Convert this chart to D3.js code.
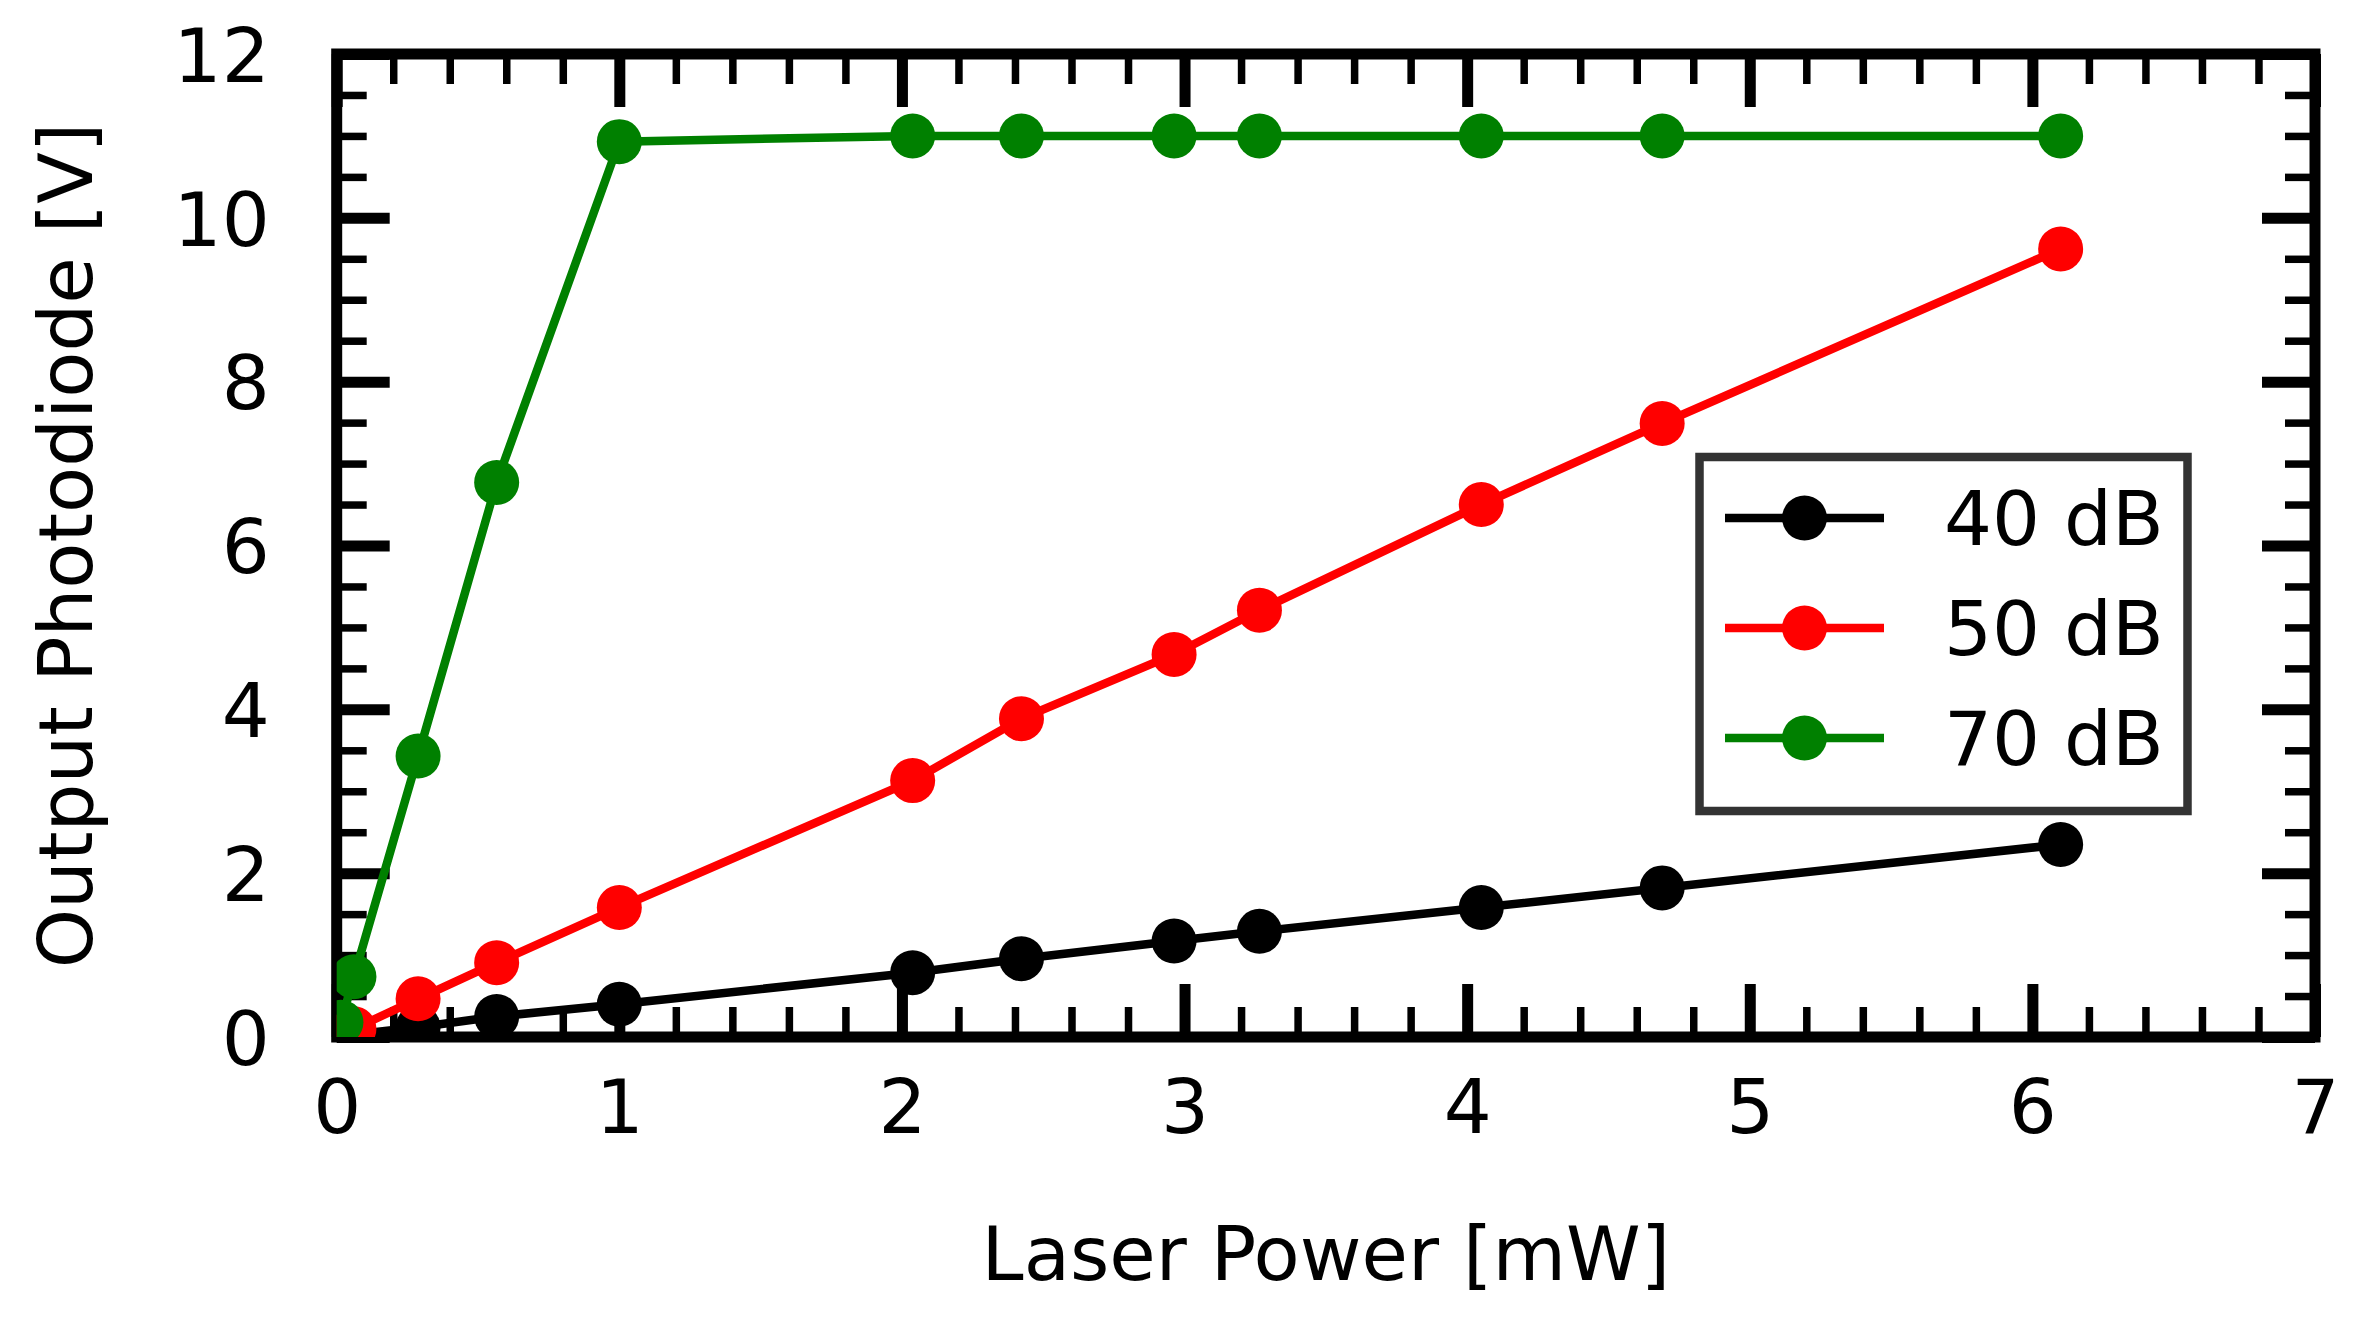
<!DOCTYPE html>
<html>
<head>
<meta charset="utf-8">
<script src="https://cdn.jsdelivr.net/npm/d3@7"></script>
<style>
  body { margin: 0; background: #fff; }
  text { font-family: "DejaVu Sans", sans-serif; }
</style>
</head>
<body>
<div id="chart"></div>
<script>
// data
var power = [0.061, 0.288, 0.566, 1.0, 2.038, 2.423, 2.963, 3.265, 4.05, 4.69, 6.10];
var power70 = [0.015, 0.061, 0.288, 0.566, 1.0, 2.038, 2.423, 2.963, 3.265, 4.05, 4.69, 6.10];
var out40 = [0.03, 0.12, 0.25, 0.40, 0.785, 0.956, 1.172, 1.29, 1.58, 1.82, 2.35];
var out50 = [0.10, 0.466, 0.907, 1.58, 3.13, 3.886, 4.67, 5.21, 6.50, 7.49, 9.62];
var out70 = [0.18, 0.736, 3.43, 6.77, 10.93, 11.0, 11.0, 11.0, 11.0, 11.0, 11.0, 11.0];
var seriesNames = ["40 dB", "50 dB", "70 dB"];
var seriesColors = ["#000000", "#ff0000", "#008000"];
var xTicks = [0, 1, 2, 3, 4, 5, 6, 7];
var yTicks = [0, 2, 4, 6, 8, 10, 12];

function drawChart() {
    var W = 2363, H = 1317;
    var pLeft = 336.7, pRight = 2315, pTop = 54, pBottom = 1037;
    var fontSize = 75.5;

    var svg = d3.select("#chart").append("svg")
        .attr("width", W)
        .attr("height", H);

    svg.append("rect").attr("width", W).attr("height", H).attr("fill", "#fff");

    var x = d3.scaleLinear().domain([0, 7]).range([pLeft, pRight]);
    var y = d3.scaleLinear().domain([0, 12]).range([pBottom, pTop]);

    var xMinor = d3.range(0, 7.001, 0.2).filter(function(v) { return Math.abs(v - Math.round(v)) > 1e-6; });
    var yMinor = d3.range(0, 12.001, 0.5).filter(function(v) { return Math.abs(v / 2 - Math.round(v / 2)) > 1e-6; });

    //////////////////// axes: inward ticks on all four sides ////////////////////
    function styleAxis(g, w) {
        g.select(".domain").remove();
        g.selectAll(".tick line").attr("stroke", "#000").attr("stroke-width", w);
    }

    // minor ticks
    svg.append("g").attr("transform", "translate(0," + pBottom + ")")
        .call(d3.axisBottom(x).tickValues(xMinor).tickSize(-30).tickFormat(""))
        .call(styleAxis, 7.5);
    svg.append("g").attr("transform", "translate(0," + pTop + ")")
        .call(d3.axisTop(x).tickValues(xMinor).tickSize(-30).tickFormat(""))
        .call(styleAxis, 7.5);
    svg.append("g").attr("transform", "translate(" + pLeft + ",0)")
        .call(d3.axisLeft(y).tickValues(yMinor).tickSize(-30).tickFormat(""))
        .call(styleAxis, 7.5);
    svg.append("g").attr("transform", "translate(" + pRight + ",0)")
        .call(d3.axisRight(y).tickValues(yMinor).tickSize(-30).tickFormat(""))
        .call(styleAxis, 7.5);

    // major ticks with labels
    var xAxis = svg.append("g").attr("transform", "translate(0," + pBottom + ")")
        .call(d3.axisBottom(x).tickValues(xTicks).tickSize(-53).tickFormat(d3.format("d")))
        .call(styleAxis, 11);
    xAxis.selectAll(".tick text")
        .attr("y", 96).attr("dy", 0)
        .attr("font-size", fontSize).attr("fill", "#000");

    var yAxis = svg.append("g").attr("transform", "translate(" + pLeft + ",0)")
        .call(d3.axisLeft(y).tickValues(yTicks).tickSize(-53).tickFormat(d3.format("d")))
        .call(styleAxis, 11);
    yAxis.selectAll(".tick text")
        .attr("x", -67).attr("dy", "0.36em")
        .attr("font-size", fontSize).attr("fill", "#000");

    svg.append("g").attr("transform", "translate(0," + pTop + ")")
        .call(d3.axisTop(x).tickValues(xTicks).tickSize(-53).tickFormat(""))
        .call(styleAxis, 11);
    svg.append("g").attr("transform", "translate(" + pRight + ",0)")
        .call(d3.axisRight(y).tickValues(yTicks).tickSize(-53).tickFormat(""))
        .call(styleAxis, 11);

    // frame
    svg.append("rect")
        .attr("x", pLeft).attr("y", pTop)
        .attr("width", pRight - pLeft).attr("height", pBottom - pTop)
        .attr("fill", "none").attr("stroke", "#000").attr("stroke-width", 11);

    //////////////////// data lines and markers ////////////////////
    svg.append("clipPath").attr("id", "plotClip")
        .append("rect")
        .attr("x", pLeft).attr("y", pTop)
        .attr("width", pRight - pLeft).attr("height", pBottom - pTop);

    var series = [
        { xs: power, ys: out40 },
        { xs: power, ys: out50 },
        { xs: power70, ys: out70 }
    ];

    var line = d3.line()
        .x(function(d) { return x(d[0]); })
        .y(function(d) { return y(d[1]); });

    var plot = svg.append("g").attr("clip-path", "url(#plotClip)");

    series.forEach(function(s, i) {
        var pts = s.xs.map(function(v, j) { return [v, s.ys[j]]; });
        var g = plot.append("g");
        g.append("path")
            .datum(pts)
            .attr("d", line)
            .attr("fill", "none")
            .attr("stroke", seriesColors[i])
            .attr("stroke-width", 8.5);
        g.selectAll("circle")
            .data(pts)
            .enter().append("circle")
            .attr("cx", function(d) { return x(d[0]); })
            .attr("cy", function(d) { return y(d[1]); })
            .attr("r", 22.5)
            .attr("fill", seriesColors[i]);
    });

    //////////////////// axis titles ////////////////////
    svg.append("text")
        .attr("x", (pLeft + pRight) / 2)
        .attr("y", 1280)
        .attr("text-anchor", "middle")
        .attr("font-size", fontSize)
        .text("Laser Power [mW]");

    svg.append("text")
        .attr("transform", "translate(92," + ((pTop + pBottom) / 2) + ") rotate(-90)")
        .attr("text-anchor", "middle")
        .attr("font-size", fontSize)
        .text("Output Photodiode [V]");

    //////////////////// legend ////////////////////
    var legend = svg.append("g");
    legend.append("rect")
        .attr("x", 1699.5).attr("y", 457)
        .attr("width", 488).attr("height", 354)
        .attr("fill", "#fff")
        .attr("stroke", "#333")
        .attr("stroke-width", 8.5);

    var rowY = d3.scalePoint().domain(seriesNames).range([518, 738]);

    var items = legend.selectAll(".item")
        .data(seriesNames)
        .enter().append("g")
        .attr("class", "item")
        .attr("transform", function(d) { return "translate(0," + rowY(d) + ")"; });

    items.append("line")
        .attr("x1", 1725).attr("x2", 1884)
        .attr("stroke", function(d, i) { return seriesColors[i]; })
        .attr("stroke-width", 8.5);
    items.append("circle")
        .attr("cx", 1804.5).attr("r", 22.5)
        .attr("fill", function(d, i) { return seriesColors[i]; });
    items.append("text")
        .attr("x", 1944).attr("y", 27)
        .attr("font-size", fontSize)
        .text(function(d) { return d; });
}
drawChart();
</script>
</body>
</html>
